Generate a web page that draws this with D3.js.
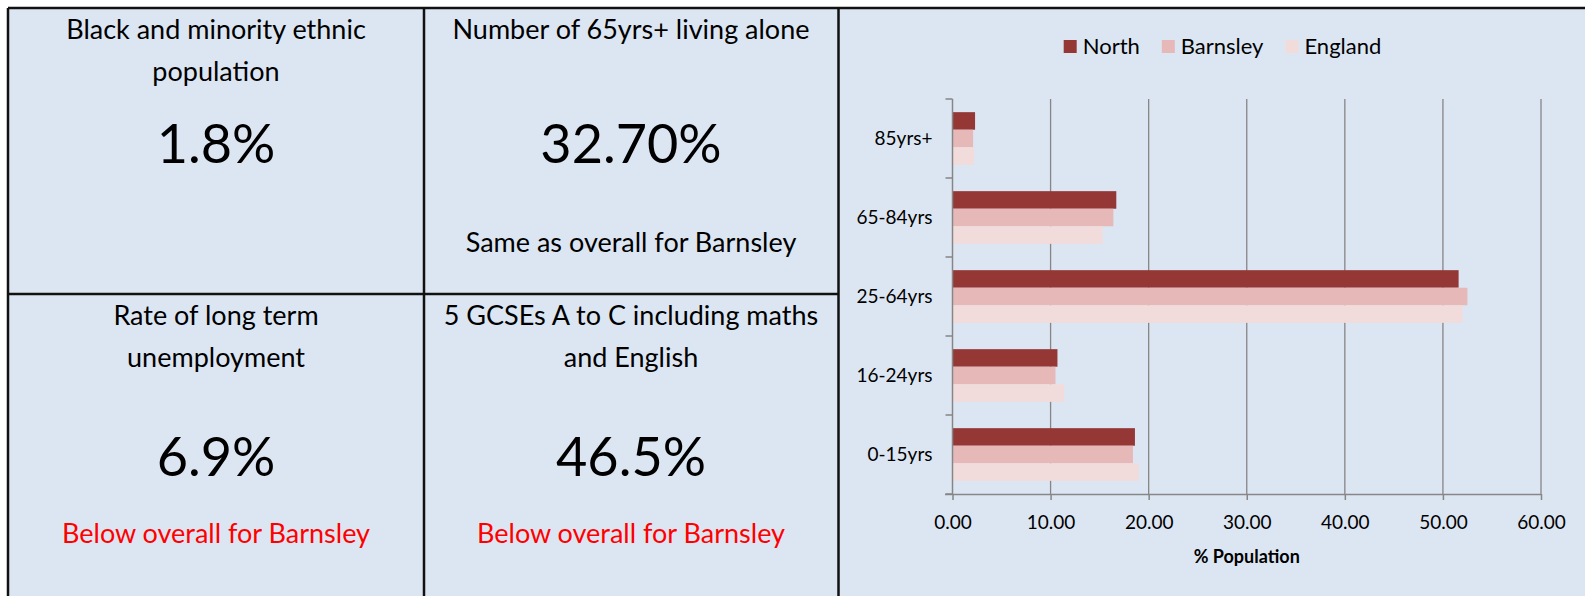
<!DOCTYPE html>
<html>
<head>
<meta charset="utf-8">
<script src="https://cdn.jsdelivr.net/npm/d3@7"></script>
<style>
	html, body { margin: 0; padding: 0; background: #fff; }
	svg { display: block; font-family: Lato, 'Open Sans', sans-serif; }
</style>
</head>
<body>
<div id="dashboard"></div>
<script>
var categories = ['85yrs+', '65-84yrs', '25-64yrs', '16-24yrs', '0-15yrs'];
var seriesNames = ['North', 'Barnsley', 'England'];
var northValues = [2.3, 16.7, 51.6, 10.7, 18.6];
var barnsleyValues = [2.1, 16.4, 52.5, 10.5, 18.4];
var englandValues = [2.2, 15.3, 52.0, 11.4, 19.0];
var xTicks = [0, 10, 20, 30, 40, 50, 60];

var tileTitles = [
	['Black and minority ethnic', 'population'],
	['Number of 65yrs+ living alone'],
	['Rate of long term', 'unemployment'],
	['5 GCSEs A to C including maths', 'and English']
];
var tileValues = ['1.8%', '32.70%', '6.9%', '46.5%'];
var tileNotes = ['', 'Same as overall for Barnsley', 'Below overall for Barnsley', 'Below overall for Barnsley'];

var Dash = {

	colors: ['#953735', '#e6b9b8', '#f2dcdb'],

	init: function() {
		var svg = d3.select('#dashboard')
			.append('svg')
			.attr('width', 1585)
			.attr('height', 596);

		svg.append('rect')
			.attr('x', 8)
			.attr('y', 8)
			.attr('width', 1577)
			.attr('height', 588)
			.attr('fill', '#dce6f2');

		Dash.drawTiles(svg);
		Dash.drawBars(svg);
		Dash.drawBorders(svg);
	},

	drawBorders: function(svg) {
		var lines = [
			[8, 8, 1585, 8],
			[8, 8, 8, 596],
			[424, 8, 424, 596],
			[838.5, 8, 838.5, 596],
			[8, 294, 838.5, 294]
		];
		svg.selectAll('line.border')
			.data(lines)
			.enter()
			.append('line')
			.attr('class', 'border')
			.attr('x1', function(d) { return d[0]; })
			.attr('y1', function(d) { return d[1]; })
			.attr('x2', function(d) { return d[2]; })
			.attr('y2', function(d) { return d[3]; })
			.attr('stroke', '#111')
			.attr('stroke-width', 2.5);
	},

	drawTiles: function(svg) {
		var cols = [216, 631],
			rows = [8, 294];

		tileTitles.forEach(function(title, i) {
			var cx = cols[i % 2],
				top = rows[Math.floor(i / 2)],
				g = svg.append('g').attr('class', 'tile');

			g.selectAll('text.title')
				.data(title)
				.enter()
				.append('text')
				.attr('class', 'title')
				.attr('x', cx)
				.attr('y', function(d, j) { return top + 22 + j * 42; })
				.attr('dy', '0.35em')
				.attr('text-anchor', 'middle')
				.style('font-size', '27px')
				.text(function(d) { return d; });

			g.append('text')
				.attr('x', cx)
				.attr('y', top + (i < 2 ? 136 : 163))
				.attr('dy', '0.35em')
				.attr('text-anchor', 'middle')
				.style('font-size', '54px')
				.text(tileValues[i]);

			if (tileNotes[i]) {
				g.append('text')
					.attr('x', cx)
					.attr('y', top + (i < 2 ? 235 : 240))
					.attr('dy', '0.35em')
					.attr('text-anchor', 'middle')
					.style('font-size', '27px')
					.attr('fill', tileNotes[i].indexOf('Below') === 0 ? '#ff0000' : '#000')
					.text(tileNotes[i]);
			}
		});
	},

	drawBars: function(svg) {
		var values = [northValues, barnsleyValues, englandValues];

		var x = d3.scaleLinear()
			.domain([0, 60])
			.range([952.5, 1541]);

		var y = d3.scaleBand()
			.domain(categories)
			.range([99, 494]);

		var ySeries = d3.scaleBand()
			.domain(seriesNames)
			.range([0, y.bandwidth()])
			.paddingOuter(0.75);

		// vertical gridlines
		svg.append('g')
			.selectAll('line')
			.data(xTicks.slice(1))
			.enter()
			.append('line')
			.attr('x1', function(d) { return x(d); })
			.attr('x2', function(d) { return x(d); })
			.attr('y1', 99)
			.attr('y2', 494)
			.attr('stroke', '#868686')
			.attr('stroke-width', 1.3);

		seriesNames.forEach(function(name, s) {
			svg.append('g')
				.selectAll('rect')
				.data(values[s])
				.enter()
				.append('rect')
				.attr('x', x(0))
				.attr('y', function(d, i) { return y(categories[i]) + ySeries(name); })
				.attr('width', function(d) { return x(d) - x(0); })
				.attr('height', ySeries.bandwidth())
				.attr('fill', Dash.colors[s]);
		});

		var xAxis = svg.append('g')
			.attr('transform', 'translate(0,494)')
			.call(d3.axisBottom(x)
				.tickValues(xTicks)
				.tickSize(6)
				.tickFormat(d3.format('.2f')));
		xAxis.select('.domain').attr('d', 'M945,0.5H' + x(60));
		xAxis.selectAll('.tick text')
			.attr('y', 22)
			.style('font-size', '19px')
			.style('font-family', 'Lato')
			.attr('fill', '#000');

		var yAxis = svg.append('g')
			.attr('transform', 'translate(' + x(0) + ',0)')
			.call(d3.axisLeft(y).tickSize(0).tickPadding(20));
		yAxis.select('.domain').remove();
		yAxis.selectAll('.tick text')
			.style('font-size', '19px')
			.style('font-family', 'Lato')
			.attr('fill', '#000');

		// category boundary ticks on the value axis
		yAxis.append('g')
			.selectAll('line')
			.data(categories.concat(['end']))
			.enter()
			.append('line')
			.attr('x1', -7)
			.attr('x2', 0)
			.attr('y1', function(d, i) { return 99 + i * y.step(); })
			.attr('y2', function(d, i) { return 99 + i * y.step(); });
		yAxis.append('line')
			.attr('x1', 0)
			.attr('x2', 0)
			.attr('y1', 99)
			.attr('y2', 494);

		svg.selectAll('.tick line').attr('stroke', '#868686').attr('stroke-width', 1.5);
		yAxis.selectAll('line').attr('stroke', '#868686').attr('stroke-width', 1.5);
		xAxis.select('.domain').attr('stroke', '#868686').attr('stroke-width', 1.5);

		svg.append('text')
			.attr('x', (x(0) + x(60)) / 2)
			.attr('y', 557)
			.attr('dy', '0.35em')
			.attr('text-anchor', 'middle')
			.style('font-size', '18px')
			.style('font-weight', 'bold')
			.text('% Population');

		Dash.drawLegend(svg);
	},

	drawLegend: function(svg) {
		var legend = svg.append('g'),
			cursor = 0;

		seriesNames.forEach(function(name, s) {
			var item = legend.append('g').attr('transform', 'translate(' + cursor + ',0)');
			item.append('rect')
				.attr('x', 0)
				.attr('y', -6.5)
				.attr('width', 13)
				.attr('height', 13)
				.attr('fill', Dash.colors[s]);
			var label = item.append('text')
				.attr('x', 19)
				.attr('dy', '0.35em')
				.style('font-size', '22px')
				.text(name);
			cursor += 19 + label.node().getComputedTextLength() + 22;
		});

		var width = cursor - 22;
		legend.attr('transform', 'translate(' + (1222.5 - width / 2) + ',46.5)');
	}
};

Dash.init();
</script>
</body>
</html>
